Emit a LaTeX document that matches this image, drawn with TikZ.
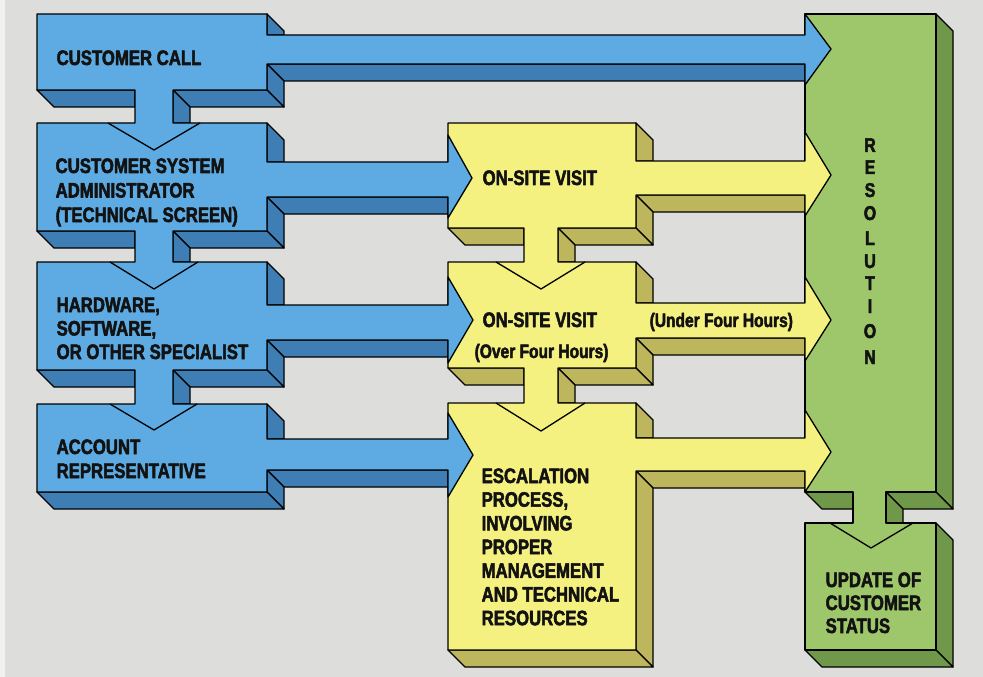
\documentclass[tikz,border=0pt]{standalone}
\usepackage{fontspec}
\newfontfamily\lab{Liberation Sans}[UprightFont=* Bold, BoldFont=* Bold, FakeStretch=0.8, FakeBold=2.4]
\definecolor{bg}{RGB}{221,221,219}
\definecolor{bluef}{RGB}{93,171,226}
\definecolor{blued}{RGB}{62,126,180}
\definecolor{yelf}{RGB}{245,241,128}
\definecolor{yeld}{RGB}{190,182,92}
\definecolor{grnf}{RGB}{157,199,106}
\definecolor{grnd}{RGB}{111,152,74}
\definecolor{ink}{RGB}{18,18,18}
\begin{document}
\begin{tikzpicture}[x=1bp,y=-1bp,line width=1.3bp,line join=round]
\tikzset{
  bfront/.style={fill=bluef,draw=black},
  bside/.style={fill=blued,draw=black},
  yfront/.style={fill=yelf,draw=black},
  yside/.style={fill=yeld,draw=black},
  gfront/.style={fill=grnf,draw=black},
  gside/.style={fill=grnd,draw=black},
  lbl/.style={anchor=base west,inner sep=0pt,text=ink,font=\lab\fontsize{21}{24}\selectfont},
  sml/.style={lbl,font=\lab\fontsize{19.5}{22}\selectfont},
  ltr/.style={lbl,anchor=base,font=\lab\fontsize{20}{22}\selectfont},
}
% background
\fill[bg] (0,0) rectangle (983,677);
\fill[white!60!bg] (0,0) rectangle (5,677);
\useasboundingbox (0,0) rectangle (983,677);

% ---------------- GREEN ----------------
\path[gside] (936,14)--(953,31)--(953,509)--(936,492)--cycle;
\path[gside] (886,492)--(936,492)--(953,509)--(903,509)--cycle;
\path[gside] (886,492)--(903,509)--(903,523)--(886,523)--cycle;
\path[gside] (805,492)--(853,492)--(853,509)--(822,509)--cycle;
\path[gside] (936,523)--(953,540)--(953,667)--(936,650)--cycle;
\path[gside] (805,650)--(936,650)--(953,667)--(822,667)--cycle;
\path[gfront] (805,14)--(936,14)--(936,492)--(886,492)--(886,523)--(936,523)--(936,650)
  --(805,650)--(805,523)--(853,523)--(853,492)--(805,492)--cycle;
\draw (830,523)--(871,548)--(913,523);

% ---------------- YELLOW ----------------
\path[yside] (636,123)--(653,140)--(653,161)--(636,161)--cycle;
\path[yside] (636,195)--(805,195)--(805,212)--(653,212)--cycle;
\path[yside] (636,195)--(653,212)--(653,245)--(636,228)--cycle;
\path[yside] (558,228)--(636,228)--(653,245)--(575,245)--cycle;
\path[yside] (558,228)--(575,245)--(575,262)--(558,262)--cycle;
\path[yside] (448,228)--(524,228)--(524,245)--(465,245)--cycle;
\path[yside] (636,262)--(653,279)--(653,303)--(636,303)--cycle;
\path[yside] (636,338)--(805,338)--(805,355)--(653,355)--cycle;
\path[yside] (636,338)--(653,355)--(653,385)--(636,368)--cycle;
\path[yside] (558,368)--(636,368)--(653,385)--(575,385)--cycle;
\path[yside] (558,368)--(575,385)--(575,403)--(558,403)--cycle;
\path[yside] (448,368)--(524,368)--(524,385)--(465,385)--cycle;
\path[yside] (636,403)--(653,420)--(653,438)--(636,438)--cycle;
\path[yside] (636,471)--(805,471)--(805,488)--(653,488)--cycle;
\path[yside] (636,471)--(653,488)--(653,667)--(636,650)--cycle;
\path[yside] (448,650)--(636,650)--(653,667)--(465,667)--cycle;
\path[yfront] (448,123)--(636,123)--(636,161)--(805,161)--(805,132)--(831,175)--(805,216)--(805,195)
  --(636,195)--(636,228)--(558,228)--(558,262)--(636,262)--(636,303)--(805,303)--(805,277)
  --(831,320)--(805,361)--(805,338)--(636,338)--(636,368)--(558,368)--(558,403)--(636,403)
  --(636,438)--(805,438)--(805,410)--(831,452)--(805,492)--(805,471)--(636,471)--(636,650)
  --(448,650)--(448,403)--(524,403)--(524,368)--(448,368)--(448,262)--(524,262)--(524,228)
  --(448,228)--cycle;
\draw (496,262)--(541,289)--(585,262);
\draw (496,403)--(541,431)--(585,403);

% ---------------- BLUE ----------------
\path[bside] (267,14)--(284,31)--(284,35)--(267,35)--cycle;
\path[bside] (267,64)--(805,64)--(805,81)--(284,81)--cycle;
\path[bside] (267,64)--(284,81)--(284,107)--(267,90)--cycle;
\path[bside] (173,90)--(267,90)--(284,107)--(190,107)--cycle;
\path[bside] (173,90)--(190,107)--(190,123)--(173,123)--cycle;
\path[bside] (37,90)--(135,90)--(135,107)--(54,107)--cycle;
\path[bside] (267,123)--(284,140)--(284,162)--(267,162)--cycle;
\path[bside] (267,197)--(448,197)--(448,214)--(284,214)--cycle;
\path[bside] (267,197)--(284,214)--(284,248)--(267,231)--cycle;
\path[bside] (173,231)--(267,231)--(284,248)--(190,248)--cycle;
\path[bside] (173,231)--(190,248)--(190,262)--(173,262)--cycle;
\path[bside] (37,231)--(135,231)--(135,248)--(54,248)--cycle;
\path[bside] (267,262)--(284,279)--(284,305)--(267,305)--cycle;
\path[bside] (267,340)--(448,340)--(448,357)--(284,357)--cycle;
\path[bside] (267,340)--(284,357)--(284,387)--(267,370)--cycle;
\path[bside] (173,370)--(267,370)--(284,387)--(190,387)--cycle;
\path[bside] (173,370)--(190,387)--(190,404)--(173,404)--cycle;
\path[bside] (37,370)--(135,370)--(135,387)--(54,387)--cycle;
\path[bside] (267,404)--(284,421)--(284,439)--(267,439)--cycle;
\path[bside] (267,470)--(448,470)--(448,487)--(284,487)--cycle;
\path[bside] (267,470)--(284,487)--(284,509)--(267,492)--cycle;
\path[bside] (37,492)--(267,492)--(284,509)--(54,509)--cycle;
\path[bfront] (37,14)--(267,14)--(267,35)--(805,35)--(805,14)--(831,49)--(805,85)--(805,64)
  --(267,64)--(267,90)--(173,90)--(173,123)--(267,123)--(267,162)--(448,162)--(448,135)
  --(472,178)--(448,218)--(448,197)--(267,197)--(267,231)--(173,231)--(173,262)--(267,262)
  --(267,305)--(448,305)--(448,277)--(473,320)--(448,363)--(448,340)--(267,340)--(267,370)
  --(173,370)--(173,404)--(267,404)--(267,439)--(448,439)--(448,413)--(473,455)--(448,497)
  --(448,470)--(267,470)--(267,492)--(37,492)--(37,404)--(135,404)--(135,370)--(37,370)
  --(37,262)--(135,262)--(135,231)--(37,231)--(37,123)--(135,123)--(135,90)--(37,90)--cycle;
\draw (108,123)--(154,150)--(200,123);
\draw (110,262)--(154,289)--(198,262);
\draw (110,404)--(154,430)--(197,404);

% ---------------- TEXT ----------------
\node[lbl] (cc) at (56,65) {CUSTOMER CALL};
\node[lbl] (sa1) at (55,173) {CUSTOMER SYSTEM};
\node[lbl] (sa2) at (55,197.5) {ADMINISTRATOR};
\node[lbl] (sa3) at (55,222) {(TECHNICAL SCREEN)};
\node[lbl] (hw1) at (56,312) {HARDWARE,};
\node[lbl] (hw2) at (56,335.5) {SOFTWARE,};
\node[lbl] (hw3) at (56,359) {OR OTHER SPECIALIST};
\node[lbl] (ar1) at (56,454) {ACCOUNT};
\node[lbl] (ar2) at (56,478) {REPRESENTATIVE};
\node[lbl] (os1) at (482,185) {ON-SITE VISIT};
\node[lbl] (os2) at (482,327) {ON-SITE VISIT};
\node[sml] (ov) at (474,358) {(Over Four Hours)};
\node[sml] (un) at (649,327) {(Under Four Hours)};
\node[lbl] (es1) at (481,483) {ESCALATION};
\node[lbl] (es2) at (481,506.7) {PROCESS,};
\node[lbl] (es3) at (481,530.4) {INVOLVING};
\node[lbl] (es4) at (481,554.1) {PROPER};
\node[lbl] (es5) at (481,577.8) {MANAGEMENT};
\node[lbl] (es6) at (481,601.5) {AND TECHNICAL};
\node[lbl] (es7) at (481,625.2) {RESOURCES};
\node[ltr] (r1) at (870,152) {R};
\node[ltr] (r2) at (870,174) {E};
\node[ltr] (r3) at (870,197) {S};
\node[ltr] (r4) at (870,220) {O};
\node[ltr] (r5) at (870,245) {L};
\node[ltr] (r6) at (870,268) {U};
\node[ltr] (r7) at (870,290) {T};
\node[ltr] (r8) at (870,313) {I};
\node[ltr] (r9) at (870,338) {O};
\node[ltr] (r10) at (870,364) {N};
\node[lbl] (up1) at (825,587) {UPDATE OF};
\node[lbl] (up2) at (825,610) {CUSTOMER};
\node[lbl] (up3) at (825,633) {STATUS};
\end{tikzpicture}
\end{document}
